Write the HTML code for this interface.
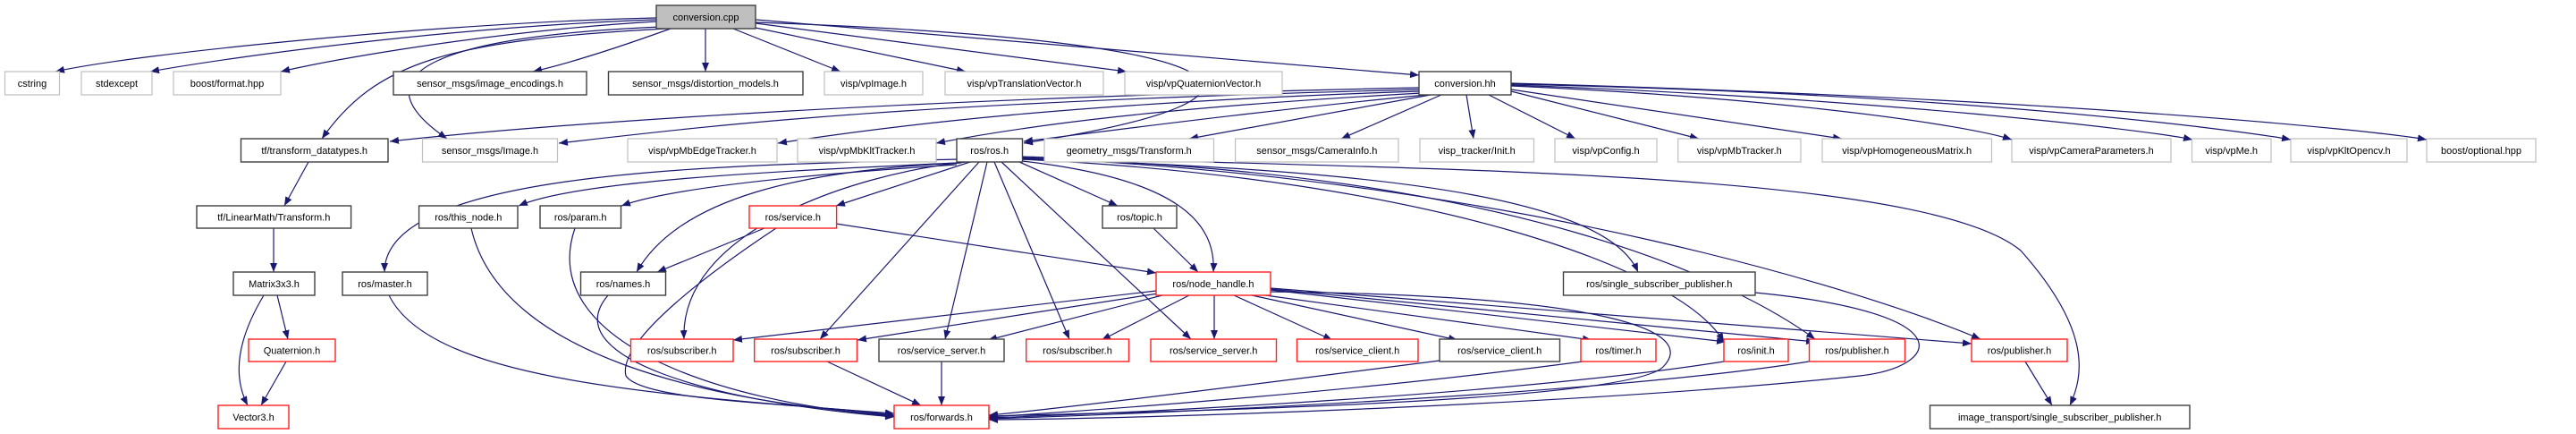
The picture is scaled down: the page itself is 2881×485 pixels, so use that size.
<!DOCTYPE html>
<html><head><meta charset="utf-8"><style>
html,body{margin:0;padding:0;background:#fff;}
svg{display:block;}
text{font-family:"Liberation Sans",Helvetica,sans-serif;font-size:11px;fill:#000;text-anchor:middle;}
.g{fill:#fff;stroke:#bfbfbf;stroke-width:1.2;}
.k{fill:#fff;stroke:#404040;stroke-width:1.4;}
.r{fill:#fff;stroke:#ff2020;stroke-width:1.4;}
.e path{fill:none;stroke:#191970;stroke-width:1.2;marker-end:url(#a);}
</style></head><body>
<svg width="2881" height="485" viewBox="0 0 2881 485" xmlns="http://www.w3.org/2000/svg">
<defs><marker id="a" markerUnits="userSpaceOnUse" markerWidth="11" markerHeight="8" refX="10" refY="4" orient="auto"><path d="M0,0 L10,4 L0,8 z" fill="#191970"/></marker></defs>
<g class="e">
<path d="M734,20 C500,25 150,60 62,80"/>
<path d="M734,22 C500,30 250,65 168,80"/>
<path d="M734,24 C550,35 380,65 314,80"/>
<path d="M750,32 C700,50 640,70 596,80"/>
<path d="M789,32 L789,80"/>
<path d="M820,32 L940,80"/>
<path d="M840,30 L1080,80"/>
<path d="M845,26 L1260,80"/>
<path d="M845,22 L1587,84"/>
<path d="M745,32 C500,45 420,70 360,155"/>
<path d="M740,30 C500,40 390,80 500,155"/>
<path d="M845,25 C1420,45 1470,110 1145,160"/>
<path d="M1587,98 C1000,110 600,140 436,158"/>
<path d="M1587,100 C1000,115 800,140 625,160"/>
<path d="M1587,102 C1200,115 1000,140 870,160"/>
<path d="M1590,104 C1300,120 1150,140 1047,160"/>
<path d="M1595,106 C1400,125 1250,145 1145,158"/>
<path d="M1600,106 L1330,155"/>
<path d="M1612,106 L1500,155"/>
<path d="M1640,106 L1648,155"/>
<path d="M1665,106 L1762,155"/>
<path d="M1690,102 L1900,155"/>
<path d="M1690,100 L2060,155"/>
<path d="M1690,96 C2000,110 2200,140 2250,156"/>
<path d="M1690,95 C2100,110 2400,145 2452,156"/>
<path d="M1690,94 C2200,105 2500,145 2562,156"/>
<path d="M1690,93 C2300,110 2650,145 2714,156"/>
<path d="M1070,178 C800,185 430,190 430,304"/>
<path d="M1070,182 C900,190 650,200 580,230"/>
<path d="M1070,184 C900,195 750,210 695,230"/>
<path d="M1085,181 L935,230"/>
<path d="M1075,182 C900,190 760,220 712,304"/>
<path d="M1080,181 C950,195 760,260 765,379"/>
<path d="M1095,181 L917,379"/>
<path d="M1104,181 L1057,379"/>
<path d="M1112,181 L1196,379"/>
<path d="M1120,181 L1332,379"/>
<path d="M1140,181 L1250,230"/>
<path d="M1143,180 C1320,200 1360,250 1357,304"/>
<path d="M1143,178 C1600,190 1800,230 1832,304"/>
<path d="M1143,178 C1600,200 1880,300 1928,382"/>
<path d="M1143,177 C1700,190 1950,320 2030,379"/>
<path d="M1143,176 C1700,200 2100,330 2215,379"/>
<path d="M1143,175 C1600,190 2150,190 2260,280 C2340,370 2330,420 2315,453"/>
<path d="M855,255 L735,304"/>
<path d="M935,250 L1293,305"/>
<path d="M868,255 C800,300 690,380 700,420 C720,450 900,450 1000,464"/>
<path d="M1290,255 L1340,304"/>
<path d="M1293,325 L820,380"/>
<path d="M1295,328 L959,380"/>
<path d="M1300,330 L1105,380"/>
<path d="M1330,330 L1232,380"/>
<path d="M1358,330 L1358,379"/>
<path d="M1380,330 L1490,380"/>
<path d="M1400,330 L1630,380"/>
<path d="M1415,330 L1780,380"/>
<path d="M1421,324 L1930,382"/>
<path d="M1421,323 L2030,382"/>
<path d="M1421,322 L2205,384"/>
<path d="M1421,326 C1800,330 1900,370 1860,410 C1820,450 1300,460 1106,465"/>
<path d="M435,330 C480,420 700,440 1000,462"/>
<path d="M527,255 C560,400 800,450 1000,464"/>
<path d="M643,255 C600,380 800,450 1000,465"/>
<path d="M680,330 C620,400 800,450 1000,466"/>
<path d="M925,404 L1030,453"/>
<path d="M1053,404 L1053,453"/>
<path d="M1610,403 C1400,430 1200,455 1106,464"/>
<path d="M1770,404 C1500,440 1200,460 1106,466"/>
<path d="M1928,404 C1700,440 1300,460 1106,467"/>
<path d="M2023,404 C1800,440 1300,462 1106,468"/>
<path d="M1963,327 C2200,350 2170,410 2080,420 C1800,450 1300,468 1106,469"/>
<path d="M345,181 L318,230"/>
<path d="M306,255 L306,304"/>
<path d="M310,330 L322,379"/>
<path d="M295,330 C265,380 260,420 277,453"/>
<path d="M320,404 L292,453"/>
<path d="M2265,404 L2295,453"/>
</g>
<g>
<rect x="734" y="6" width="111" height="26" fill="#bfbfbf" stroke="#404040" stroke-width="1.4"/><text x="789.5" y="23">conversion.cpp</text>

<rect class="g" x="5.5" y="80" width="61" height="26"/><text x="36" y="97">cstring</text>
<rect class="g" x="91" y="80" width="79" height="26"/><text x="130.5" y="97">stdexcept</text>
<rect class="g" x="194" y="80" width="120" height="26"/><text x="254" y="97">boost/format.hpp</text>
<rect class="k" x="440" y="80" width="216" height="26"/><text x="548" y="97">sensor_msgs/image_encodings.h</text>
<rect class="k" x="680.5" y="80" width="217.5" height="26"/><text x="789" y="97">sensor_msgs/distortion_models.h</text>
<rect class="g" x="922" y="80" width="110" height="26"/><text x="977" y="97">visp/vpImage.h</text>
<rect class="g" x="1057" y="80" width="177" height="26"/><text x="1145.5" y="97">visp/vpTranslationVector.h</text>
<rect class="g" x="1258" y="80" width="176" height="26"/><text x="1346" y="97">visp/vpQuaternionVector.h</text>
<rect class="k" x="1587" y="80" width="103" height="26"/><text x="1638.5" y="97">conversion.hh</text>

<rect class="k" x="269.5" y="155" width="164.5" height="26"/><text x="351.7" y="172">tf/transform_datatypes.h</text>
<rect class="g" x="472.5" y="155" width="151" height="26"/><text x="548" y="172">sensor_msgs/Image.h</text>
<rect class="g" x="702" y="155" width="167" height="26"/><text x="785.5" y="172">visp/vpMbEdgeTracker.h</text>
<rect class="g" x="892" y="155" width="155" height="26"/><text x="969.5" y="172">visp/vpMbKltTracker.h</text>
<rect class="k" x="1070" y="155" width="73.5" height="26"/><text x="1106.7" y="172">ros/ros.h</text>
<rect class="g" x="1168" y="155" width="189.5" height="26"/><text x="1262.7" y="172">geometry_msgs/Transform.h</text>
<rect class="g" x="1381.6" y="155" width="182.4" height="26"/><text x="1472.8" y="172">sensor_msgs/CameraInfo.h</text>
<rect class="g" x="1588" y="155" width="127.5" height="26"/><text x="1651.7" y="172">visp_tracker/Init.h</text>
<rect class="g" x="1739" y="155" width="114" height="26"/><text x="1796" y="172">visp/vpConfig.h</text>
<rect class="g" x="1876.7" y="155" width="137.3" height="26"/><text x="1945.3" y="172">visp/vpMbTracker.h</text>
<rect class="g" x="2038" y="155" width="189.5" height="26"/><text x="2132.7" y="172">visp/vpHomogeneousMatrix.h</text>
<rect class="g" x="2250" y="155" width="178" height="26"/><text x="2339" y="172">visp/vpCameraParameters.h</text>
<rect class="g" x="2451.5" y="155" width="88.5" height="26"/><text x="2495.7" y="172">visp/vpMe.h</text>
<rect class="g" x="2562" y="155" width="130" height="26"/><text x="2627" y="172">visp/vpKltOpencv.h</text>
<rect class="g" x="2714" y="155" width="122" height="26"/><text x="2775" y="172">boost/optional.hpp</text>

<rect class="k" x="220" y="230" width="172.6" height="25"/><text x="306.3" y="246.5">tf/LinearMath/Transform.h</text>
<rect class="k" x="468.6" y="230" width="110.4" height="25"/><text x="523.8" y="246.5">ros/this_node.h</text>
<rect class="k" x="604" y="230" width="90.5" height="25"/><text x="649.2" y="246.5">ros/param.h</text>
<rect class="r" x="838" y="230" width="97.6" height="25"/><text x="886.8" y="246.5">ros/service.h</text>
<rect class="k" x="1233" y="230" width="83" height="25"/><text x="1274.5" y="246.5">ros/topic.h</text>

<rect class="k" x="261" y="304" width="91" height="26"/><text x="306.5" y="321">Matrix3x3.h</text>
<rect class="k" x="383" y="304" width="95" height="26"/><text x="430.5" y="321">ros/master.h</text>
<rect class="k" x="649.5" y="304" width="95" height="26"/><text x="697" y="321">ros/names.h</text>
<rect class="r" x="1293" y="304" width="128" height="26"/><text x="1357" y="321">ros/node_handle.h</text>
<rect class="k" x="1748.5" y="304" width="214.5" height="26"/><text x="1855.7" y="321">ros/single_subscriber_publisher.h</text>

<rect class="r" x="278" y="379" width="97" height="25"/><text x="326.5" y="395.5">Quaternion.h</text>
<rect class="r" x="705.5" y="379" width="114.5" height="25"/><text x="762.7" y="395.5">ros/subscriber.h</text>
<rect class="r" x="843.7" y="379" width="114.8" height="25"/><text x="901" y="395.5">ros/subscriber.h</text>
<rect class="k" x="983" y="379" width="140" height="25"/><text x="1053" y="395.5">ros/service_server.h</text>
<rect class="r" x="1147.7" y="379" width="114.8" height="25"/><text x="1205" y="395.5">ros/subscriber.h</text>
<rect class="r" x="1287" y="379" width="140.5" height="25"/><text x="1357.2" y="395.5">ros/service_server.h</text>
<rect class="r" x="1450.5" y="379" width="135.5" height="25"/><text x="1518.2" y="395.5">ros/service_client.h</text>
<rect class="k" x="1610" y="379" width="134.5" height="25"/><text x="1677.2" y="395.5">ros/service_client.h</text>
<rect class="r" x="1768" y="379" width="84" height="25"/><text x="1810" y="395.5">ros/timer.h</text>
<rect class="r" x="1928" y="379" width="72" height="25"/><text x="1964" y="395.5">ros/init.h</text>
<rect class="r" x="2023.5" y="379" width="107" height="25"/><text x="2077" y="395.5">ros/publisher.h</text>
<rect class="r" x="2205" y="379" width="107" height="25"/><text x="2258.5" y="395.5">ros/publisher.h</text>

<rect class="r" x="244" y="453" width="79" height="26"/><text x="283.5" y="470">Vector3.h</text>
<rect class="r" x="1000" y="453" width="106" height="26"/><text x="1053" y="470">ros/forwards.h</text>
<rect class="k" x="2158.5" y="453" width="290.5" height="26"/><text x="2303.7" y="470">image_transport/single_subscriber_publisher.h</text>
</g>
</svg>
</body></html>
